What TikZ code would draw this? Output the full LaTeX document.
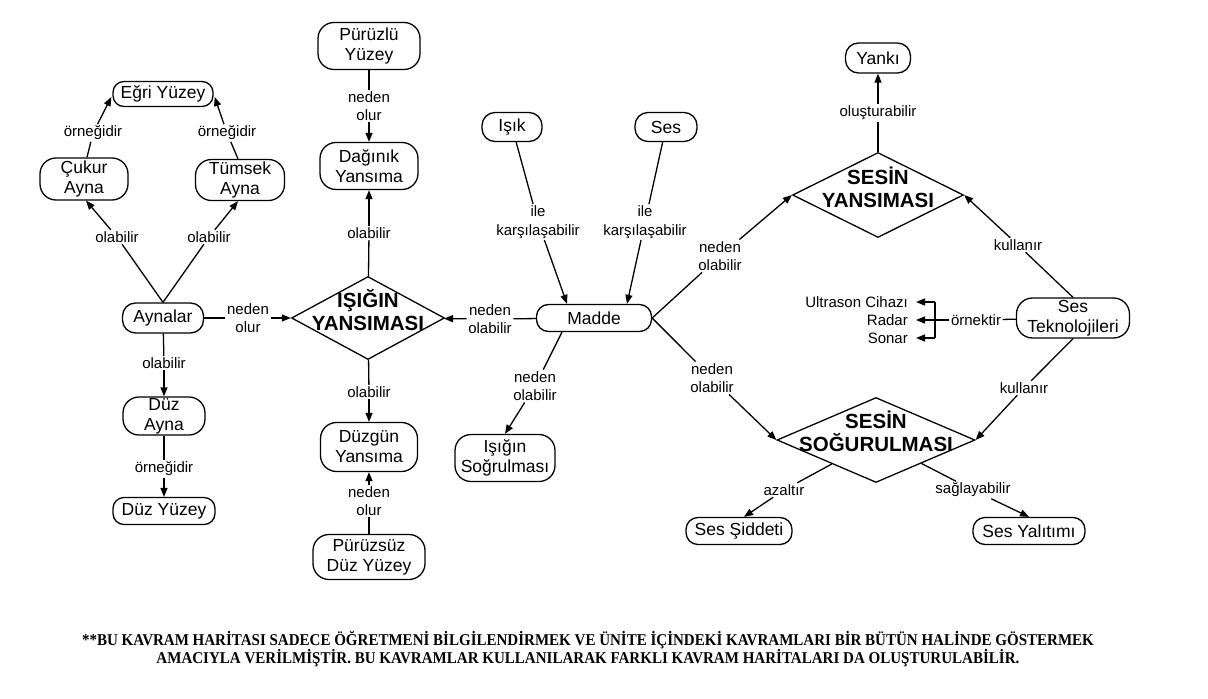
\documentclass[tikz,border=0pt]{standalone}
\usepackage{fontspec}
\usepackage{graphicx}
\setmainfont{Liberation Sans}
\newfontfamily\footfont{Liberation Serif}
\usetikzlibrary{shapes.geometric,arrows.meta,calc}
\newcommand\cnfont{\fontsize{17.5}{20}\selectfont}
\newcommand\lbfont{\fontsize{15}{18.5}\selectfont}
\newcommand\dtfont{\fontsize{20.5}{23}\selectfont\bfseries}
\begin{document}
\begin{tikzpicture}[x=1pt,y=-1pt,
  concept/.style={draw, line width=1.3pt, rounded corners=11pt, font=\cnfont, align=center, inner sep=0pt},
  concepttwo/.style={concept, rounded corners=16pt},
  lbl/.style={font=\lbfont, align=center, inner sep=1.5pt},
  dia/.style={draw, diamond, line width=1.3pt, inner sep=0pt},
  diatext/.style={font=\dtfont, align=center, inner sep=0pt},
  ln/.style={line width=1.3pt},
  arr/.style={line width=1.3pt, -{Triangle[length=9pt,width=7pt]}},
  foot/.style={font=\footfont\bfseries\fontsize{16.5}{18}\selectfont, inner sep=0pt}
]
\useasboundingbox (0,0) rectangle (1208,699);
\fill[white] (0,0) rectangle (1208,699);

% concepts
\node[concept, minimum width=100pt, minimum height=25pt] (eg) at (163,94) {Eğri Yüzey};
\node[concepttwo, minimum width=88pt, minimum height=42pt] (cu) at (84,179) {Çukur\\Ayna};
\node[concepttwo, minimum width=89pt, minimum height=41pt] (tu) at (240,180) {Tümsek\\Ayna};
\node[concept, rounded corners=13pt, minimum width=81pt, minimum height=30pt] (ay) at (163,318) {Aynalar};
\node[concepttwo, minimum width=82pt, minimum height=38pt] (da) at (164,416) {Düz\\Ayna};
\node[concept, minimum width=102pt, minimum height=27pt] (dy) at (164,511) {Düz Yüzey};
\node[concepttwo, minimum width=102pt, minimum height=47pt] (pl) at (369,46) {Pürüzlü\\Yüzey};
\node[concepttwo, minimum width=98pt, minimum height=47pt] (dg) at (369,166) {Dağınık\\Yansıma};
\node[concepttwo, minimum width=97pt, minimum height=49pt] (dz) at (369,447) {Düzgün\\Yansıma};
\node[concepttwo, minimum width=112pt, minimum height=45pt] (ps) at (369,557) {Pürüzsüz\\Düz Yüzey};
\node[concept, rounded corners=13pt, minimum width=60pt, minimum height=29pt] (isk) at (512,127) {Işık};
\node[concept, rounded corners=13pt, minimum width=62pt, minimum height=29pt] (ses) at (666,127) {Ses};
\node[concept, rounded corners=12pt, minimum width=115pt, minimum height=27pt] (md) at (594,318) {Madde};
\node[concepttwo, minimum width=100pt, minimum height=47pt] (iso) at (505,458) {Işığın\\Soğrulması};
\node[concept, rounded corners=13pt, minimum width=65pt, minimum height=30pt] (yk) at (878,58) {Yankı};
\node[concepttwo, minimum width=113pt, minimum height=40pt] (st) at (1073,318) {Ses\\Teknolojileri};
\node[concept, rounded corners=12pt, minimum width=112pt, minimum height=27pt] (yal) at (1029,531) {Ses Yalıtımı};
\node[concept, rounded corners=12pt, minimum width=106pt, minimum height=27pt] (sid) at (739,531) {Ses Şiddeti};

% diamonds
\node[dia, minimum width=153pt, minimum height=83pt] (iy) at (368,318) {};
\node[diatext] (iyt) at (368,310) {IŞIĞIN\\YANSIMASI};
\node[dia, minimum width=171pt, minimum height=85pt] (sy) at (878,195) {};
\node[diatext] (syt) at (878,187) {SESİN\\YANSIMASI};
\node[dia, minimum width=198pt, minimum height=85pt] (ss) at (876,440) {};
\node[diatext] (sst) at (876,431) {SESİN\\SOĞURULMASI};

% examples
\node[lbl, anchor=east, inner xsep=8pt] (ul) at (916,302) {Ultrason Cihazı};
\node[lbl, anchor=east, inner xsep=8pt] (rd) at (916,320) {Radar};
\node[lbl, anchor=east, inner xsep=8pt] (sn) at (916,338) {Sonar};

% link labels
\node[lbl] (l1) at (93,133) {örneğidir};
\node[lbl] (l2) at (227,133) {örneğidir};
\node[lbl] (l3) at (117,237) {olabilir};
\node[lbl] (l4) at (209,237) {olabilir};
\node[lbl] (l5) at (248,318) {neden\\olur};
\node[lbl] (l6) at (164,363) {olabilir};
\node[lbl] (l7) at (164,469) {örneğidir};
\node[lbl] (l8) at (369,106) {neden\\olur};
\node[lbl] (l9) at (369,233) {olabilir};
\node[lbl] (l10) at (369,392) {olabilir};
\node[lbl] (l11) at (369,501) {neden\\olur};
\node[lbl] (l12) at (490,319) {neden\\olabilir};
\node[lbl] (l13) at (538,222) {ile\\karşılaşabilir};
\node[lbl] (l14) at (645,222) {ile\\karşılaşabilir};
\node[lbl] (l15) at (535,386) {neden\\olabilir};
\node[lbl] (l16) at (720,256) {neden\\olabilir};
\node[lbl] (l17) at (712,378) {neden\\olabilir};
\node[lbl] (l18) at (878,113) {oluşturabilir};
\node[lbl] (l19) at (1018,245) {kullanır};
\node[lbl] (l20) at (1024,388) {kullanır};
\node[lbl] (l21) at (976,320) {örnektir};
\node[lbl] (l22) at (784,490) {azaltır};
\node[lbl] (l23) at (973,490) {sağlayabilir};

\coordinate (bt) at (935,302);
\coordinate (bm) at (935,320);
\coordinate (bb) at (935,338);

% connectors
\draw[ln] ($(cu.north)+(3,0)$) -- (l1);
\draw[arr] (l1) -- ($(eg.west)+(-1,3)$);
\draw[ln] ($(tu.north)+(-2,0)$) -- (l2);
\draw[arr] (l2) -- ($(eg.east)+(1,3)$);
\draw[ln] (ay.north) -- (l3);
\draw[arr] (l3) -- ($(cu.south)+(2,0)$);
\draw[ln] (ay.north) -- (l4);
\draw[arr] (l4) -- ($(tu.south)+(-2,0)$);
\draw[ln] (ay) -- (l5);
\draw[arr] (l5) -- (iy);
\draw[ln] (ay) -- (l6);
\draw[arr] (l6) -- (da);
\draw[ln] (da) -- (l7);
\draw[arr] (l7) -- (dy);
\draw[ln] (pl) -- (l8);
\draw[arr] (l8) -- (dg);
\draw[ln] (iy) -- (l9);
\draw[arr] (l9) -- (dg);
\draw[ln] (iy) -- (l10);
\draw[arr] (l10) -- (dz);
\draw[ln] (ps) -- (l11);
\draw[arr] (l11) -- (dz);
\draw[ln] (md) -- (l12);
\draw[arr] (l12) -- (iy);
\draw[ln] (isk) -- (l13);
\draw[arr] (l13) -- ($(md.north)+(-27,0)$);
\draw[ln] (ses) -- (l14);
\draw[arr] (l14) -- ($(md.north)+(33,0)$);
\draw[ln] ($(md.south)+(-32,0)$) -- (l15);
\draw[arr] (l15) -- (iso.north);
\draw[ln] (md.east) -- (l16);
\draw[arr] (l16) -- (sy.west);
\draw[ln] (md.east) -- (l17);
\draw[arr] (l17) -- (ss.west);
\draw[ln] (sy) -- (l18);
\draw[arr] (l18) -- (yk);
\draw[ln] (st.north) -- (l19);
\draw[arr] (l19) -- (sy.east);
\draw[ln] (st.south) -- (l20);
\draw[arr] (l20) -- (ss.east);
\draw[ln] (st) -- (l21);
\draw[ln] (l21) -- (bm);
\draw[ln] (bt) -- (bb);
\draw[arr] (bt) -- (ul);
\draw[arr] (bm) -- (rd);
\draw[arr] (bb) -- (sn);
\draw[ln] (ss) -- (l22);
\draw[arr] (l22) -- ($(sid.north)+(5,0)$);
\draw[ln] (ss) -- (l23);
\draw[arr] (l23) -- (yal.north);

% footer
\node[foot] (f1) at (588,640) {\resizebox{1012pt}{\height}{**BU KAVRAM HARİTASI SADECE ÖĞRETMENİ BİLGİLENDİRMEK VE ÜNİTE İÇİNDEKİ KAVRAMLARI BİR BÜTÜN HALİNDE GÖSTERMEK}};
\node[foot] (f2) at (588,658) {\resizebox{863pt}{\height}{AMACIYLA VERİLMİŞTİR. BU KAVRAMLAR KULLANILARAK FARKLI KAVRAM HARİTALARI DA OLUŞTURULABİLİR.}};
\end{tikzpicture}
\end{document}
